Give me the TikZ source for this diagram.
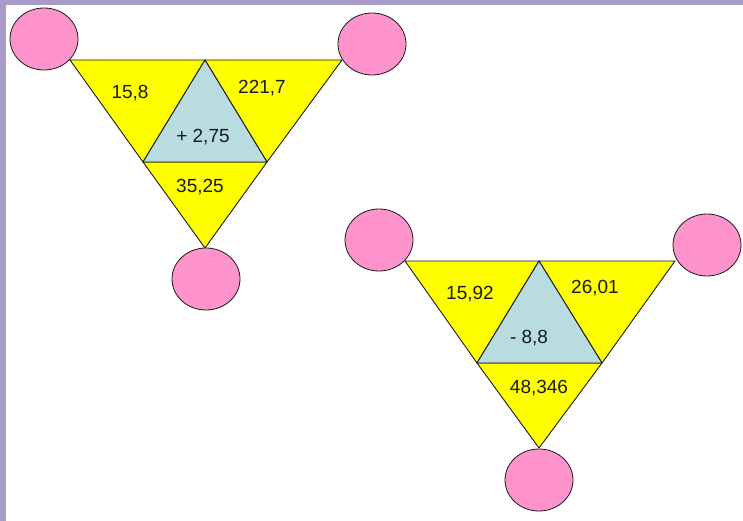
\documentclass[tikz,border=0pt]{standalone}
\usepackage{fontspec}
\setmainfont{Liberation Sans}
\usetikzlibrary{shapes.geometric}
\definecolor{lilac}{HTML}{A99BC9}
\definecolor{sun}{HTML}{FFFF00}
\definecolor{ice}{HTML}{B8DCE0}
\definecolor{rose}{HTML}{FF93CB}
\definecolor{ink}{HTML}{1A1A1A}
\begin{document}
\begin{tikzpicture}[x=1pt, y=-1pt,
      part/.style={draw=ink, line width=0.9pt, line join=round},
      outer/.style={part, fill=sun},
      inner/.style={part, fill=ice},
      blob/.style={ellipse, draw=ink, line width=0.8pt, fill=rose, minimum width=68pt, minimum height=62pt, inner sep=0pt},
      num/.style={font=\fontsize{19}{21}\selectfont, text=ink, inner sep=0pt}]
    \useasboundingbox (0,0) rectangle (743,521);
    \fill[white] (0,0) rectangle (743,521);
    \fill[lilac] (0,0) rectangle (743,5);
    \fill[lilac] (0,0) rectangle (6,521);
    % first triangle
    \coordinate (a1) at (70,60);
    \coordinate (b1) at (342,60);
    \coordinate (c1) at (205,248);
    \coordinate (m1) at (205,60);
    \coordinate (l1) at (143,162);
    \coordinate (r1) at (267,162);
    \draw[outer] (a1) -- (m1) -- (l1) -- cycle;
    \draw[outer] (m1) -- (b1) -- (r1) -- cycle;
    \draw[outer] (l1) -- (r1) -- (c1) -- cycle;
    \draw[inner] (m1) -- (r1) -- (l1) -- cycle;
    \node[blob] (p1) at (44,39) {};
    \node[blob] (q1) at (372,44) {};
    \node[blob] (s1) at (206,279) {};
    \node[num] (n11) at (130,93) {15,8};
    \node[num] (n12) at (262,88) {221,7};
    \node[num] (n13) at (203,137) {+ 2,75};
    \node[num] (n14) at (200,187) {35,25};
    % second triangle
    \coordinate (a2) at (405,261);
    \coordinate (b2) at (675,261);
    \coordinate (c2) at (539,448);
    \coordinate (m2) at (539,261);
    \coordinate (l2) at (477,363);
    \coordinate (r2) at (602,363);
    \draw[outer] (a2) -- (m2) -- (l2) -- cycle;
    \draw[outer] (m2) -- (b2) -- (r2) -- cycle;
    \draw[outer] (l2) -- (r2) -- (c2) -- cycle;
    \draw[inner] (m2) -- (r2) -- (l2) -- cycle;
    \node[blob] (p2) at (379,240) {};
    \node[blob] (q2) at (707,245) {};
    \node[blob] (s2) at (539,480) {};
    \node[num] (n21) at (470,294) {15,92};
    \node[num] (n22) at (595,288) {26,01};
    \node[num] (n23) at (529,338) {- 8,8};
    \node[num] (n24) at (539,388) {48,346};
  \end{tikzpicture}
\end{document}
